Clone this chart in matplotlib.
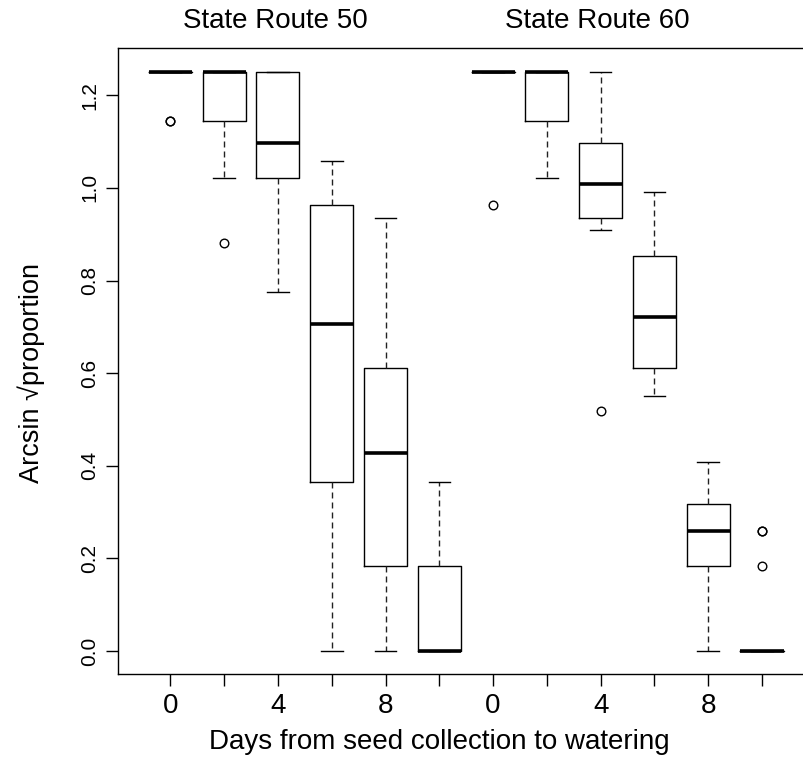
import matplotlib
matplotlib.use("Agg")
import matplotlib.pyplot as plt
import matplotlib.transforms as mtransforms

plt.rcParams['font.family'] = ['Liberation Sans', 'DejaVu Sans']

# ---- data ----
route_titles = ["State Route 50", "State Route 60"]
days = [0, 2, 4, 6, 8, 10]
tick_labels = ["0", "", "4", "", "8", "", "0", "", "4", "", "8", ""]

# State Route 50
sr50_whislo = [1.25, 1.022, 0.775, 0.0, 0.0, 0.0]
sr50_q1 = [1.25, 1.145, 1.022, 0.366, 0.184, 0.0]
sr50_med = [1.25, 1.25, 1.096, 0.706, 0.428, 0.0]
sr50_q3 = [1.25, 1.25, 1.25, 0.963, 0.611, 0.184]
sr50_whishi = [1.25, 1.25, 1.25, 1.057, 0.935, 0.366]
sr50_fliers = [[1.145, 1.145], [0.880], [], [], [], []]

# State Route 60
sr60_whislo = [1.25, 1.022, 0.908, 0.551, 0.0, 0.0]
sr60_q1 = [1.25, 1.145, 0.934, 0.611, 0.184, 0.0]
sr60_med = [1.25, 1.25, 1.008, 0.722, 0.259, 0.0]
sr60_q3 = [1.25, 1.25, 1.096, 0.853, 0.317, 0.0]
sr60_whishi = [1.25, 1.25, 1.25, 0.992, 0.409, 0.0]
sr60_fliers = [[0.962], [], [0.518], [], [], [0.259, 0.259, 0.184]]

y_ticks = [0.0, 0.2, 0.4, 0.6, 0.8, 1.0, 1.2]

# ---- build stats for bxp ----
stats = []
for lo, q1, med, q3, hi, fl in (
        list(zip(sr50_whislo, sr50_q1, sr50_med, sr50_q3, sr50_whishi, sr50_fliers)) +
        list(zip(sr60_whislo, sr60_q1, sr60_med, sr60_q3, sr60_whishi, sr60_fliers))):
    stats.append(dict(whislo=lo, q1=q1, med=med, q3=q3, whishi=hi, fliers=fl))

W, H = 804, 763
fig = plt.figure(figsize=(W / 100, H / 100), dpi=100)
ax_left, ax_right, ax_top, ax_bottom = 117.7, 814.7, 47.7, 674.3
ax = fig.add_axes([ax_left / W, 1 - ax_bottom / H,
                   (ax_right - ax_left) / W, (ax_bottom - ax_top) / H])

positions = list(range(1, len(stats) + 1))
ax.bxp(stats, positions=positions, widths=0.8, showfliers=True,
       boxprops=dict(color='black', linewidth=1.0),
       medianprops=dict(color='black', linewidth=2.6, solid_capstyle='butt'),
       whiskerprops=dict(color='#222222', linewidth=1.0, linestyle=(0, (4.3, 2.9))),
       capprops=dict(color='black', linewidth=1.0),
       capwidths=0.4,
       flierprops=dict(marker='o', markerfacecolor='none', markeredgecolor='black',
                       markersize=6.2, markeredgewidth=1.0, linestyle='none'))

ax.set_xlim(0.02, 12.98)
ax.set_ylim(-0.05, 1.3025)

ax.set_xticks(positions)
ax.set_xticklabels(tick_labels, fontsize=20)
ax.set_yticks(y_ticks)
ax.set_yticklabels([f"{v:.1f}" for v in y_ticks], fontsize=15, rotation=90,
                   va='center')
ax.tick_params(axis='both', direction='out', length=8.4, width=1.0, color='black')
ax.tick_params(axis='x', pad=5)
ax.tick_params(axis='y', pad=5)

for sp in ax.spines.values():
    sp.set_linewidth(1.0)
    sp.set_color('black')

# titles above each route group
tr_title = mtransforms.blended_transform_factory(ax.transData, fig.transFigure)
for xpos, title in zip([2.95, 8.94], route_titles):
    fig.text(xpos, 1 - 28.3 / H, title, transform=tr_title, ha='center',
             va='baseline', fontsize=20)

# x label
fig.text(6, 1 - 749 / H, "Days from seed collection to watering",
         transform=tr_title, ha='center', va='baseline', fontsize=20)

# y label
tr_ylab = mtransforms.blended_transform_factory(fig.transFigure, ax.transData)
fig.text(31 / W, 0.6, "Arcsin \u221aproportion", transform=tr_ylab,
         rotation=90, ha='center', va='center', fontsize=19.5)

fig.savefig("out.png", dpi=100)
